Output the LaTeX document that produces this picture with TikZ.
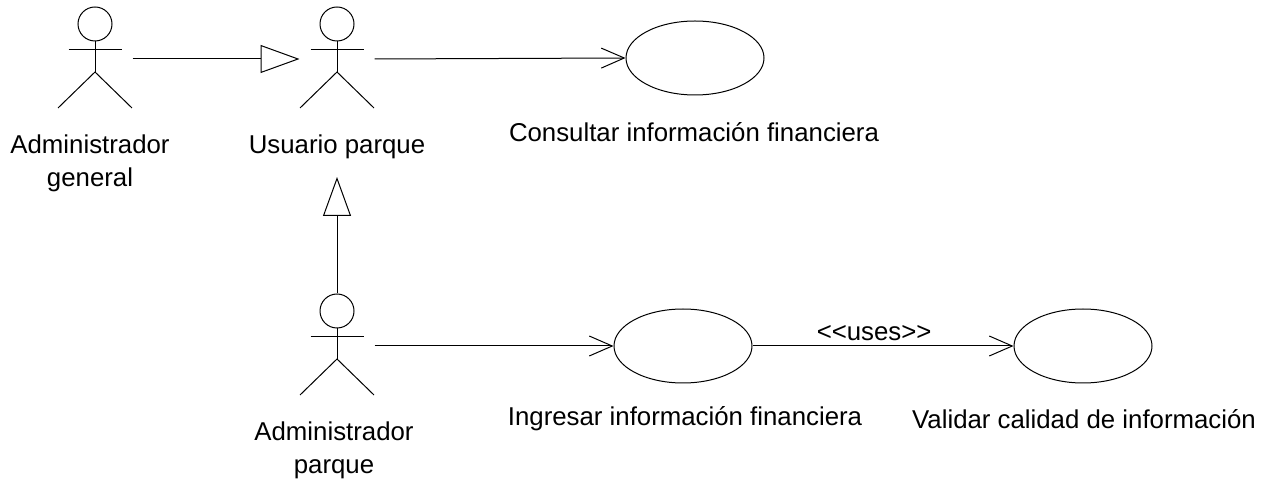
\documentclass[tikz,border=0pt]{standalone}
\usepackage{fontspec}
\setmainfont{Liberation Sans}
\usepackage{tikz}
\usetikzlibrary{shapes.geometric,arrows.meta,positioning}

\begin{document}
\begin{tikzpicture}[
    x=0.5pt, y=-0.5pt,
    line width=0.5pt,
    font=\fontsize{12.9}{16.5}\selectfont,
    actorbox/.style={rectangle, minimum width=37pt, minimum height=49pt, inner sep=0pt},
    actorhead/.style={circle, draw, minimum size=17pt, inner sep=0pt},
    usecase/.style={ellipse, draw, minimum width=69pt, minimum height=37pt, inner sep=0pt},
    caption/.style={align=center, inner sep=0pt},
    inherit/.style={-{Triangle[open, fill=white, length=19.5pt, width=14pt]}},
    assoc/.style={-{Straight Barb[length=11.5pt, width=10pt]}},
    actor/.pic={
        \node[actorbox] (-box) at (0,0) {};
        \node[actorhead] (-head) at (0,-35) {};
        \draw (-26.5,-9) -- (26.5,-9);
        \draw (-head.south) -- (0,13);
        \draw (-37,49) -- (0,13) -- (37,49);
    }
]
    \useasboundingbox (0,0) rectangle (1274,480);

    % Actors
    \pic (general) at (95,59) {actor};
    \pic (usuario) at (337,59) {actor};
    \pic (parque) at (337,346) {actor};

    % Use cases
    \node[usecase] (consultar) at (695,58) {};
    \node[usecase] (ingresar) at (683,346) {};
    \node[usecase] (validar) at (1083,346) {};

    % Labels
    \node[caption] (generallabel) at (90,163) {Administrador\\general};
    \node[caption] (usuariolabel) at (337,147) {Usuario parque};
    \node[caption] (parquelabel) at (334,450) {Administrador\\parque};
    \node[caption] (consultarlabel) at (694,132) {Consultar información financiera};
    \node[caption] (ingresarlabel) at (685,419) {Ingresar información financiera};
    \node[caption] (validarlabel) at (1084,419) {Validar calidad de información};

    % Arrows
    \draw[inherit] (general-box.east) -- (usuario-box.west);
    \draw[inherit] (parque-head.north) -- (337,177);
    \draw[assoc] (usuario-box.east) -- (consultar.west);
    \draw[assoc] (parque-box.east) -- (ingresar.west);
    \draw[assoc] (ingresar.east) -- node[pos=0.466, above=2.5pt, inner sep=0pt] (uses) {<{}<uses>{}>} (validar.west);
\end{tikzpicture}
\end{document}
